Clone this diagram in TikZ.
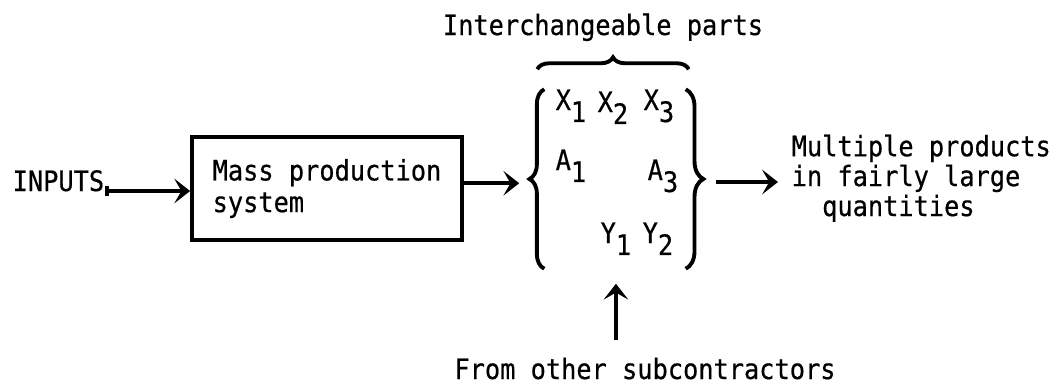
\documentclass[tikz,border=0pt]{standalone}
\usepackage{fontspec}
\setmonofont[FakeStretch=0.9, FakeBold=0.5]{DejaVu Sans Mono}
\usetikzlibrary{arrows.meta,decorations.pathreplacing}
\newcommand{\lowsub}[1]{\raisebox{-3.4pt}{#1}}

\begin{document}
\begin{tikzpicture}[
  x=0.01cm, y=-0.01cm,
  txt/.style={font=\ttfamily\fontsize{8}{8.5}\selectfont, inner sep=0pt},
  stagebox/.style={draw, line width=1pt, minimum width=2.7cm, minimum height=1.03cm,
                   align=left, font=\ttfamily\fontsize{8}{9}\selectfont},
  part/.style={txt, anchor=base west},
  curly/.style={decorate, decoration={brace, amplitude=#1}, line width=1.1pt},
  arrow/.style={-{Stealth[length=4.5pt,width=7pt,inset=2pt]}, line width=1.1pt}
]
\useasboundingbox (0,0) rectangle (1057,381);

\node[txt, anchor=base west] (inputs) at (12,191) {INPUTS};
\node[stagebox] (mps) at (327,188.5) {Mass production\\system};
\node[minimum width=1.73cm, minimum height=1.78cm, inner sep=0pt] (parts) at (616.5,179) {};

% Parts held between the braces
\node[part] (x1) at (555,110) {X\lowsub{1}};
\node[part] (x2) at (597,112) {X\lowsub{2}};
\node[part] (x3) at (643,110) {X\lowsub{3}};
\node[part] (a1) at (555,170) {A\lowsub{1}};
\node[part] (a3) at (647,180) {A\lowsub{3}};
\node[part] (y1) at (600,243) {Y\lowsub{1}};
\node[part] (y2) at (642,243) {Y\lowsub{2}};

\draw[curly=4.2pt] ([xshift=0.15cm]parts.south west) -- ([xshift=0.15cm]parts.north west);
\draw[curly=5pt] ([xshift=-0.18cm]parts.north east) -- ([xshift=-0.18cm]parts.south east);
\draw[curly=3.4pt] ([shift={(0.08cm,0.2cm)}]parts.north west) -- ([shift={(-0.15cm,0.2cm)}]parts.north east);

\node[txt, anchor=base] (title) at (603,35) {Interchangeable parts};
\node[txt, anchor=base] (from) at (645,379) {From other subcontractors};
\node[txt, anchor=north west, align=left] (outputs) at (791,134) {Multiple products\\in fairly large\\~~quantities};

\draw[line width=1.1pt, {Bar[width=3pt]}-{Stealth[length=4.5pt,width=7pt,inset=2pt]}]
  (inputs.base east) -- (inputs.base east -| mps.west);
\draw[arrow, shorten >=0.1cm] ([yshift=1.5pt]mps.east) -- ([yshift=1.5pt]mps.east -| parts.west);
\draw[arrow, shorten >=0.13cm] ([shift={(0.12cm,-0.03cm)}]parts.east) coordinate (po) -- (po -| outputs.west);
\draw[arrow, shorten <=0.17cm, shorten >=0.15cm] (y1 |- from.north) -- (y1 |- parts.south);

\end{tikzpicture}
\end{document}
